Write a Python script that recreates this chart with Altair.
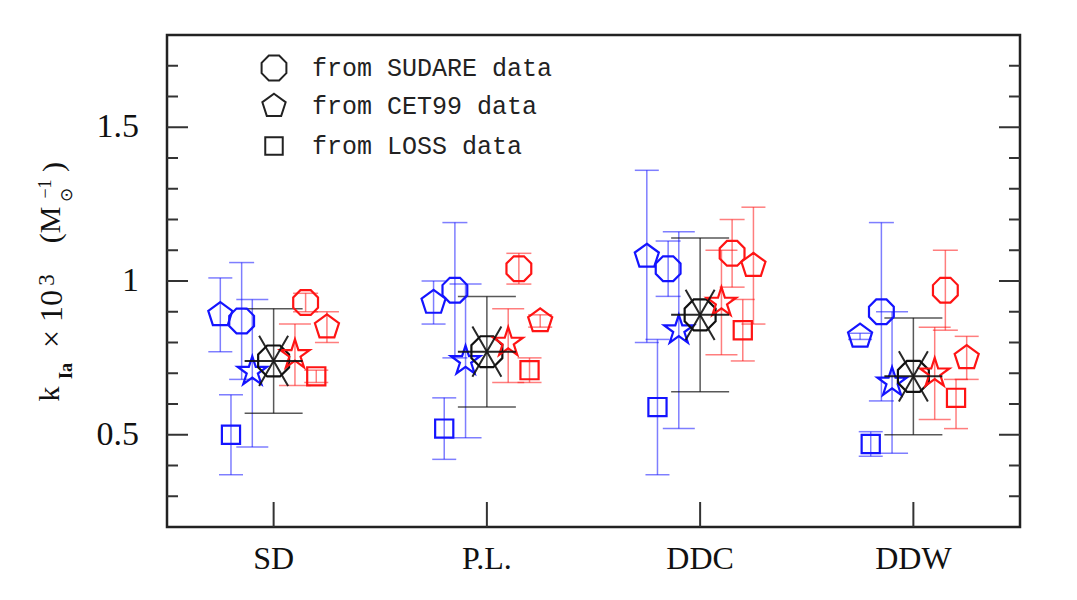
import altair as alt
import pandas as pd

# ---------------- data ----------------
categories = ["SD", "P.L.", "DDC", "DDW"]
series = ["blue_CET99", "blue_LOSS", "blue_SUDARE", "blue_star", "mean",
          "red_star", "red_SUDARE", "red_LOSS", "red_CET99"]
offsets = [-0.25, -0.20, -0.15, -0.10, 0.0, 0.10, 0.15, 0.20, 0.25]

blue_CET99_val = [0.89, 0.93, 1.08, 0.82]
blue_CET99_hi = [1.01, 1.00, 1.36, 0.83]
blue_CET99_lo = [0.77, 0.86, 0.80, 0.81]

blue_LOSS_val = [0.50, 0.52, 0.59, 0.47]
blue_LOSS_hi = [0.63, 0.62, 0.81, 0.51]
blue_LOSS_lo = [0.37, 0.42, 0.37, 0.43]

blue_SUDARE_val = [0.87, 0.97, 1.04, 0.90]
blue_SUDARE_hi = [1.06, 1.19, 1.13, 1.19]
blue_SUDARE_lo = [0.68, 0.75, 0.95, 0.61]

blue_star_val = [0.705, 0.74, 0.84, 0.67]
blue_star_hi = [0.94, 0.99, 1.16, 0.90]
blue_star_lo = [0.46, 0.49, 0.52, 0.44]

mean_val = [0.74, 0.77, 0.89, 0.69]
mean_hi = [0.91, 0.95, 1.14, 0.88]
mean_lo = [0.57, 0.59, 0.64, 0.50]

red_star_val = [0.76, 0.80, 0.93, 0.70]
red_star_hi = [0.86, 0.91, 1.10, 0.85]
red_star_lo = [0.66, 0.67, 0.76, 0.55]

red_SUDARE_val = [0.93, 1.04, 1.09, 0.97]
red_SUDARE_hi = [0.96, 1.09, 1.20, 1.10]
red_SUDARE_lo = [0.90, 0.99, 0.98, 0.84]

red_LOSS_val = [0.69, 0.71, 0.84, 0.62]
red_LOSS_hi = [0.71, 0.75, 0.94, 0.68]
red_LOSS_lo = [0.67, 0.67, 0.74, 0.52]

red_CET99_val = [0.85, 0.87, 1.05, 0.75]
red_CET99_hi = [0.90, 0.89, 1.24, 0.82]
red_CET99_lo = [0.80, 0.85, 0.86, 0.68]

legend_labels = ["from SUDARE data", "from CET99 data", "from LOSS data"]

y_major = [0.5, 1.0, 1.5]
y_minor = [0.3, 0.4, 0.6, 0.7, 0.8, 0.9, 1.1, 1.2, 1.3, 1.4, 1.6, 1.7]

table = {
    "blue_CET99": (blue_CET99_val, blue_CET99_hi, blue_CET99_lo),
    "blue_LOSS": (blue_LOSS_val, blue_LOSS_hi, blue_LOSS_lo),
    "blue_SUDARE": (blue_SUDARE_val, blue_SUDARE_hi, blue_SUDARE_lo),
    "blue_star": (blue_star_val, blue_star_hi, blue_star_lo),
    "mean": (mean_val, mean_hi, mean_lo),
    "red_star": (red_star_val, red_star_hi, red_star_lo),
    "red_SUDARE": (red_SUDARE_val, red_SUDARE_hi, red_SUDARE_lo),
    "red_LOSS": (red_LOSS_val, red_LOSS_hi, red_LOSS_lo),
    "red_CET99": (red_CET99_val, red_CET99_hi, red_CET99_lo),
}

rows = []
for s, off in zip(series, offsets):
    v, h, l = table[s]
    for i, c in enumerate(categories):
        rows.append({"series": s, "cat": c, "xpos": i + 1 + off,
                     "val": v[i], "hi": h[i], "lo": l[i]})
df = pd.DataFrame(rows)

# ---------------- styles ----------------
OCT = "M0.924,0.383L0.383,0.924L-0.383,0.924L-0.924,0.383L-0.924,-0.383L-0.383,-0.924L0.383,-0.924L0.924,-0.383Z"
PENT = "M0,-1L0.951,-0.309L0.588,0.809L-0.588,0.809L-0.951,-0.309Z"
STAR = ("M0,-1L0.2245,-0.309L0.951,-0.309L0.363,0.118L0.588,0.809L0,0.382"
        "L-0.588,0.809L-0.363,0.118L-0.951,-0.309L-0.2245,-0.309Z")
ASTER = "M-1,0L1,0M-0.5,-0.866L0.5,0.866M0.5,-0.866L-0.5,0.866"
SQ = "M-1,-1L1,-1L1,1L-1,1Z"

BLUE, RED, BLACK = "#1414ff", "#ff1414", "#111111"
style = {
    # series: (color, shape, symbol size, cap width)
    "blue_CET99": (BLUE, PENT, 640, 24),
    "blue_LOSS": (BLUE, SQ, 330, 24),
    "blue_SUDARE": (BLUE, OCT, 720, 25),
    "blue_star": (BLUE, STAR, 950, 32),
    "mean": (BLACK, OCT, 1122, 58),
    "red_star": (RED, STAR, 950, 32),
    "red_SUDARE": (RED, OCT, 720, 25),
    "red_LOSS": (RED, SQ, 330, 24),
    "red_CET99": (RED, PENT, 640, 24),
}

W, H = 853, 492
MONO = "Liberation Mono"
SERIF = "Liberation Serif"

xscale = alt.Scale(domain=[0.5, 4.5], nice=False, zero=False)
yscale = alt.Scale(domain=[0.2, 1.8], nice=False, zero=False)
X = alt.X("xpos:Q", scale=xscale, axis=None)

base = alt.Chart(df)
err_layers, pt_layers = [], []
for s in series:
    col, shp, sz, cap = style[s]
    sub = base.transform_filter(alt.datum.series == s)
    op = 0.55 if s != "mean" else 0.7
    err_layers.append(sub.mark_rule(strokeWidth=1.5, opacity=op, color=col).encode(
        x=X, y=alt.Y("lo:Q", scale=yscale, axis=None), y2="hi:Q"))
    for f in ["hi", "lo"]:
        err_layers.append(sub.mark_tick(orient="horizontal", thickness=1.5, size=cap,
                                        opacity=op, color=col).encode(
            x=X, y=alt.Y(f + ":Q", scale=yscale, axis=None)))
    pt_layers.append(sub.mark_point(filled=False, strokeWidth=2.2, opacity=1, color=col,
                                    shape=shp, size=sz).encode(
        x=X, y=alt.Y("val:Q", scale=yscale, axis=None)))

aster = base.transform_filter(alt.datum.series == "mean").mark_point(
    filled=False, strokeWidth=2, opacity=0.9, shape=ASTER, size=3364, color=BLACK
).encode(x=X, y=alt.Y("val:Q", scale=yscale, axis=None))

# inward frame ticks
tick_color = "#333"
ymaj = alt.Chart(pd.DataFrame({"v": y_major}))
ymin = alt.Chart(pd.DataFrame({"v": y_minor}))
yv = alt.Y("v:Q", scale=yscale, axis=None)
cat_df = pd.DataFrame({"gx": list(range(1, len(categories) + 1)), "lab": categories})
frame_layers = [
    ymaj.mark_rule(strokeWidth=2, color=tick_color).encode(y=yv, x=alt.value(0), x2=alt.value(21)),
    ymin.mark_rule(strokeWidth=2, color=tick_color).encode(y=yv, x=alt.value(0), x2=alt.value(11)),
    ymaj.mark_rule(strokeWidth=2, color=tick_color).encode(y=yv, x=alt.value(W), x2=alt.value(W - 21)),
    ymin.mark_rule(strokeWidth=2, color=tick_color).encode(y=yv, x=alt.value(W), x2=alt.value(W - 11)),
    alt.Chart(cat_df).mark_rule(strokeWidth=2, color=tick_color).encode(
        x=alt.X("gx:Q", scale=xscale, axis=None), y=alt.value(H), y2=alt.value(H - 25)),
    # tick labels
    alt.Chart(cat_df).mark_text(font=SERIF, fontSize=32, baseline="middle", align="center",
                                color="#111").encode(
        x=alt.X("gx:Q", scale=xscale, axis=None), y=alt.value(H + 32), text="lab:N"),
    ymaj.mark_text(font=SERIF, fontSize=34, baseline="middle", align="right", color="#111").encode(
        y=yv, x=alt.value(-28), text=alt.Text("v:Q", format="~g")),
]

# legend (inside plot, top-left)
legend_shapes = [(OCT, 720), (PENT, 600), (SQ, 306)]
legend_rows = [33, 71, 111]
legend_layers = []
for lab, (shp, sz), yy in zip(legend_labels, legend_shapes, legend_rows):
    one = alt.Chart(pd.DataFrame({"t": [lab]}))
    legend_layers.append(one.mark_point(filled=False, strokeWidth=2, color="#222", shape=shp, size=sz,
                                        opacity=1).encode(x=alt.value(107), y=alt.value(yy)))
    legend_layers.append(one.mark_text(align="left", baseline="middle", font=MONO,
                                       fontSize=25, color="#222").encode(
        x=alt.value(145), y=alt.value(yy), text="t:N"))

# y-axis title pieces (rotated)
title_pieces = [
    # text, x_center, y_center, size, weight
    ("k", -117, 359, 30, "normal"),
    ("Ia", -100, 336, 18, "bold"),
    ("× 10", -115, 284, 32, "normal"),
    ("3", -120, 245, 23, "normal"),
    ("(M", -116, 190, 30, "normal"),
    ("⊙", -100, 160, 17, "normal"),
    ("−1", -121, 154, 18, "normal"),
    (")", -113, 132, 30, "normal"),
]
title_layers = []
for t, tx, ty, fs, fw in title_pieces:
    title_layers.append(alt.Chart(pd.DataFrame({"t": [t]})).mark_text(
        angle=270, align="center", baseline="middle", font=SERIF, fontSize=fs,
        fontWeight=fw, color="#111").encode(x=alt.value(tx), y=alt.value(ty), text="t:N"))

chart = alt.layer(
    *err_layers, *pt_layers, aster, *frame_layers, *legend_layers, *title_layers
).properties(
    width=W, height=H,
    autosize=alt.AutoSizeParams(type="none"),
    padding={"left": 159, "top": 27, "right": 40, "bottom": 65},
).configure_view(stroke="#222", strokeWidth=2.5)

chart.save("out.html", embed_options={"renderer": "svg", "actions": False})
